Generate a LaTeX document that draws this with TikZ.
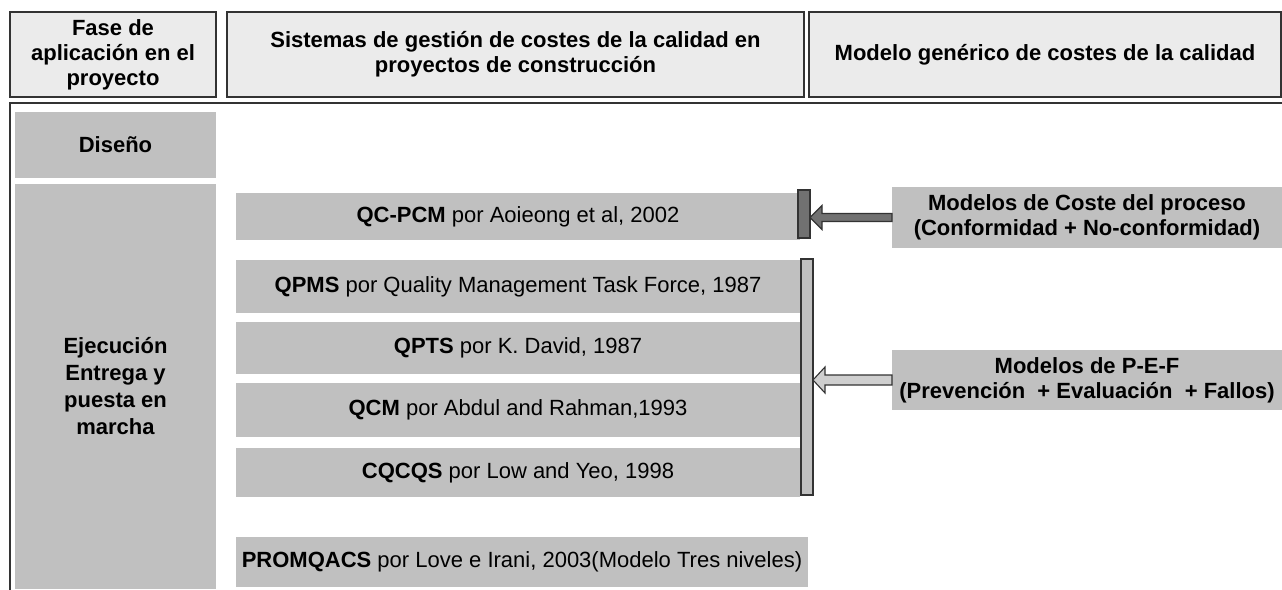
\documentclass[tikz,border=0pt]{standalone}
\usepackage{fontspec}
\setmainfont{Liberation Sans}
\begin{document}
\begin{tikzpicture}[x=1pt,y=-1pt,
  every node/.style={inner sep=0pt, outer sep=0pt, align=center, font=\fontsize{22}{26}\selectfont},
  hdr/.style={draw=hdrline, line width=1.8pt, fill=hdrfill, font=\fontsize{22}{25}\selectfont\bfseries},
  gbox/.style={fill=boxgray},
  phase/.style={gbox, font=\fontsize{22}{27}\selectfont\bfseries},
  mbox/.style={gbox, font=\fontsize{22}{25}\selectfont\bfseries},
  darkbar/.style={draw=hdrline, line width=1.2pt, fill=bardark},
  lightbar/.style={draw=hdrline, line width=1.2pt, fill=boxgray},
  arrdark/.style={draw=hdrline, line width=1.1pt, fill=bardark, line join=miter},
  arrlight/.style={draw=hdrline, line width=1.1pt, fill=arrfill, line join=miter}
]
\definecolor{hdrline}{HTML}{333333}
\definecolor{hdrfill}{HTML}{EBEBEB}
\definecolor{boxgray}{HTML}{C0C0C0}
\definecolor{bardark}{HTML}{717171}
\definecolor{arrfill}{HTML}{CFCFCF}
\useasboundingbox (0,0) rectangle (1282,589);

% header
\node[hdr, minimum width=206, minimum height=85] (h1) at (113,54.5) {Fase de\\aplicación en el\\proyecto};
\node[hdr, minimum width=577, minimum height=85] (h2) at (515.5,54.5) {Sistemas de gestión de costes de la calidad en\\proyectos de construcción};
\node[hdr, minimum width=472, minimum height=85] (h3) at (1045,54.5) {Modelo genérico de costes de la calidad};

% outer frame
\coordinate (fr) at (1283,103);
\coordinate (fc) at (10,103);
\coordinate (fb) at (10,590);
\draw[hdrline, line width=1.6pt] (fr) -- (fc) -- (fb);

% phases
\node[phase, minimum width=201, minimum height=66] (dis) at (115.5,145) {Diseño};
\node[phase, minimum width=201, minimum height=405] (eje) at (115.5,386.5) {Ejecución\\Entrega y\\puesta en\\marcha};

% systems
\node[gbox, minimum width=564, minimum height=47] (s1) at (518,216.5) {\textbf{QC-PCM} por Aoieong et al, 2002};
\node[gbox, minimum width=564, minimum height=53] (s2) at (518,286.5) {\textbf{QPMS} por Quality Management Task Force, 1987};
\node[gbox, minimum width=564, minimum height=52] (s3) at (518,348) {\textbf{QPTS} por K. David, 1987};
\node[gbox, minimum width=564, minimum height=54] (s4) at (518,410) {\textbf{QCM} por Abdul and Rahman,1993};
\node[gbox, minimum width=564, minimum height=49] (s5) at (518,472.5) {\textbf{CQCQS} por Low and Yeo, 1998};
\node[gbox, minimum width=572, minimum height=50] (s6) at (522,562) {\textbf{PROMQACS} por Love e Irani, 2003(Modelo Tres niveles)};

% bars
\node[darkbar, minimum width=12, minimum height=48] (b1) at (804,214) {};
\node[lightbar, minimum width=12, minimum height=236] (b2) at (807,377) {};

% models
\node[mbox, minimum width=390, minimum height=61] (m1) at (1087,217.5) {Modelos de Coste del proceso\\(Conformidad + No-conformidad)};
\node[mbox, minimum width=390, minimum height=60] (m2) at (1087,380) {Modelos de P-E-F\\(Prevención~ + Evaluación~ + Fallos)};

% arrows
\draw[arrdark] (b1.east |- m1.west) -- ++(12,-12) -- ++(0,8) -- ([yshift=4pt]m1.west) -- ([yshift=-4pt]m1.west) -- ([xshift=12pt,yshift=-4pt]b1.east |- m1.west) -- ++(0,8) -- cycle;
\draw[arrlight] (b2.east |- m2.west) -- ++(12,-13) -- ++(0,8) -- ([yshift=5pt]m2.west) -- ([yshift=-5pt]m2.west) -- ([xshift=12pt,yshift=-5pt]b2.east |- m2.west) -- ++(0,8) -- cycle;
\end{tikzpicture}
\end{document}
